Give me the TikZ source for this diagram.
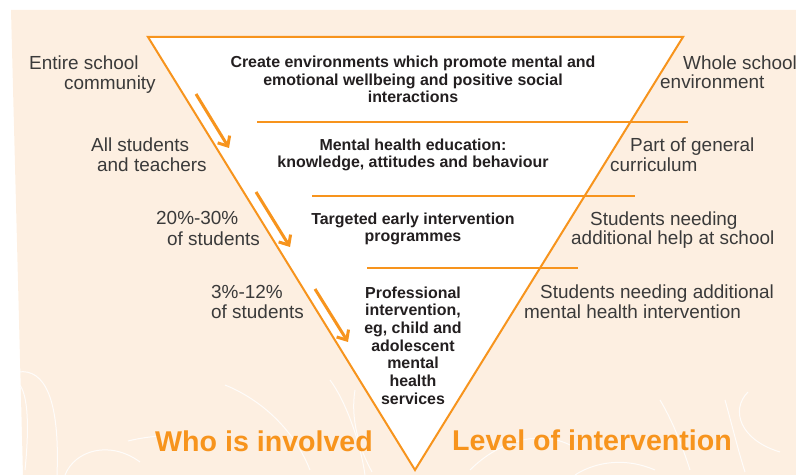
\documentclass[tikz,border=0pt]{standalone}
\usepackage{fontspec}
\setmainfont{Liberation Sans}
\usetikzlibrary{arrows.meta}
\definecolor{orng}{HTML}{F7941D}
\definecolor{peach}{HTML}{FDEFE1}
\definecolor{txtgray}{HTML}{3A3A3A}
\definecolor{txtdark}{HTML}{231F20}
\begin{document}
\begin{tikzpicture}[x=1bp,y=-1bp,
 side/.style={font=\fontsize{19}{22}\selectfont, text=txtgray, inner sep=0, anchor=base west},
 tier/.style={font=\fontsize{16}{17.7}\selectfont\bfseries, text=txtdark, inner sep=0, anchor=base, align=center},
 title/.style={font=\fontsize{28.7}{32}\selectfont\bfseries, text=orng, inner sep=0, anchor=base west},
 edgeline/.style={draw=orng, line width=2bp},
 flow/.style={draw=orng, line width=3bp, -{Straight Barb[length=8bp,width=14bp,line width=3bp]}},
 squig/.style={draw=white, line width=1bp, opacity=0.85}]
\useasboundingbox (0,0) rectangle (796,475);
% background
\fill[peach] (11,10) -- (796,10) -- (796,475) -- (23,475) -- cycle;
% decorative squiggles
\draw[squig] (18,372) .. controls (45,368) and (60,400) .. (57,475);
\draw[squig] (20,385) .. controls (30,400) and (28,440) .. (25,470);
\draw[squig] (65,475) .. controls (75,450) and (110,440) .. (140,462);
\draw[squig] (128,441) .. controls (140,438) and (150,437) .. (158,436);
\draw[squig] (225,385) .. controls (250,395) and (290,420) .. (310,470);
\draw[squig] (330,380) .. controls (345,400) and (360,440) .. (365,475);
\draw[squig] (355,390) .. controls (350,420) and (360,450) .. (372,472);
\draw[squig] (470,470) .. controls (500,440) and (540,430) .. (570,445);
\draw[squig] (660,400) .. controls (672,420) and (682,445) .. (690,470);
\draw[squig] (748,392) .. controls (730,410) and (740,440) .. (780,452);
\draw[squig] (725,400) .. controls (732,425) and (738,450) .. (745,472);
\draw[squig] (655,470) .. controls (620,455) and (590,465) .. (575,475);
% triangle
\coordinate (tl) at (148,37);
\coordinate (tr) at (683,37);
\coordinate (bt) at (415,470);
\fill[white] (tl) -- (tr) -- (bt) -- cycle;
\draw[edgeline, line join=miter] (tl) -- (tr) -- (bt) -- cycle;
% dividers
\coordinate (d1a) at (257,122); \coordinate (d1b) at (688,122);
\coordinate (d2a) at (312,196); \coordinate (d2b) at (635,196);
\coordinate (d3a) at (367,268); \coordinate (d3b) at (578,268);
\draw[edgeline] (d1a) -- (d1b);
\draw[edgeline] (d2a) -- (d2b);
\draw[edgeline] (d3a) -- (d3b);
% arrows
\coordinate (a1s) at (196,94);  \coordinate (a1e) at (229,148);
\coordinate (a2s) at (256,192); \coordinate (a2e) at (290,247);
\coordinate (a3s) at (315,289); \coordinate (a3e) at (348,342);
\draw[flow] (a1s) -- (a1e);
\draw[flow] (a2s) -- (a2e);
\draw[flow] (a3s) -- (a3e);
% tier texts (anchored at the baseline of their last line)
\node[tier] (t1) at (413,103) {Create environments which promote mental and\\emotional wellbeing and positive social\\interactions};
\node[tier] (t2) at (413,168) {Mental health education:\\knowledge, attitudes and behaviour};
\node[tier] (t3) at (413,242) {Targeted early intervention\\programmes};
\node[tier] (t4) at (413,404) {Professional\\intervention,\\eg, child and\\adolescent\\mental\\health\\services};
% left labels
\node[side] (l1a) at (29,70) {Entire school};
\node[side] (l1b) at (64,90) {community};
\node[side] (l2a) at (91,152) {All students};
\node[side] (l2b) at (97,172) {and teachers};
\node[side] (l3a) at (156,225) {20\%-30\%};
\node[side] (l3b) at (167,246) {of students};
\node[side] (l4a) at (211,299) {3\%-12\%};
\node[side] (l4b) at (211,319) {of students};
% right labels
\node[side] (r1a) at (683,70) {Whole school};
\node[side] (r1b) at (660,89) {environment};
\node[side] (r2a) at (630,152) {Part of general};
\node[side] (r2b) at (610,172) {curriculum};
\node[side] (r3a) at (590,226) {Students needing};
\node[side] (r3b) at (571,245) {additional help at school};
\node[side] (r4a) at (540,299) {Students needing additional};
\node[side] (r4b) at (524,319) {mental health intervention};
% titles
\node[title] (who) at (155,451) {Who is involved};
\node[title] (lvl) at (452,450) {Level of intervention};
\end{tikzpicture}
\end{document}
